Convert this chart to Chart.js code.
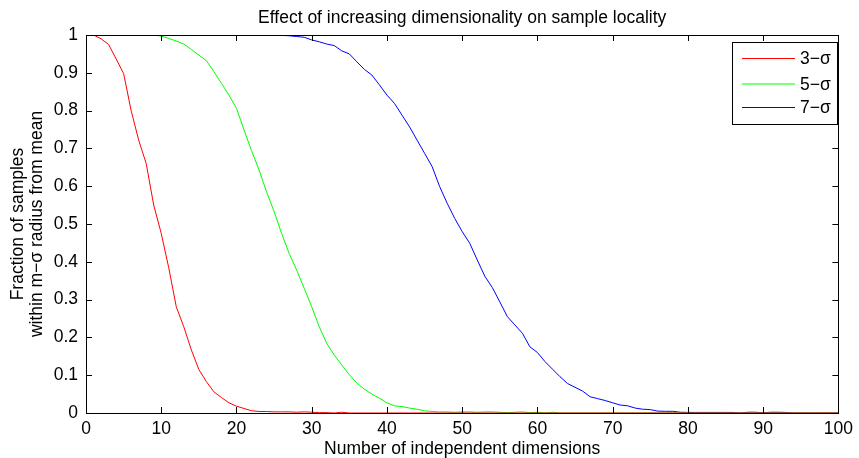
<!DOCTYPE html>
<html>
<head>
<meta charset="utf-8">
<script src="https://cdn.jsdelivr.net/npm/chart.js@4/dist/chart.umd.min.js"></script>
<style>
  html, body { margin: 0; padding: 0; background: #fff; }
  #wrap { width: 859px; height: 458px; position: relative; }
</style>
</head>
<body>
<div id="wrap"><canvas id="locality"></canvas></div>
<script>
// Number of independent dimensions (1..100)
const dims = Array.from({ length: 100 }, (_, i) => i + 1);

// Fraction of samples within 3, 5 and 7 sigma of the mean, per dimension
const sigma3 = [
  1.000, 0.990, 0.975, 0.937, 0.898, 0.800, 0.722, 0.660, 0.550, 0.475,
  0.384, 0.281, 0.228, 0.167, 0.115, 0.083, 0.056, 0.041, 0.027, 0.018,
  0.012, 0.006, 0.004, 0.004, 0.003, 0.003, 0.003, 0.002, 0.003, 0.002,
  0.001, 0.001, 0.000, 0.002, 0.000, 0.000, 0.000, 0.000, 0.000, 0.000,
  0, 0, 0, 0, 0, 0, 0, 0, 0, 0,
  0, 0, 0, 0, 0, 0, 0, 0, 0, 0,
  0, 0, 0, 0, 0, 0, 0, 0, 0, 0,
  0, 0, 0, 0, 0, 0, 0, 0, 0, 0,
  0, 0, 0, 0, 0, 0, 0, 0, 0, 0,
  0, 0, 0, 0, 0, 0, 0, 0, 0, 0
];
const sigma5 = [
  1.000, 1.000, 1.000, 1.000, 1.000, 1.000, 1.000, 1.000, 1.000, 0.997,
  0.991, 0.984, 0.976, 0.962, 0.947, 0.932, 0.903, 0.872, 0.841, 0.806,
  0.749, 0.694, 0.643, 0.585, 0.533, 0.475, 0.422, 0.378, 0.330, 0.281,
  0.228, 0.184, 0.153, 0.127, 0.101, 0.079, 0.063, 0.050, 0.039, 0.027,
  0.019, 0.017, 0.013, 0.010, 0.006, 0.004, 0.003, 0.003, 0.002, 0.003,
  0.003, 0.002, 0.003, 0.003, 0.002, 0.001, 0.002, 0.003, 0.001, 0.002,
  0.000, 0.002, 0.000, 0, 0, 0, 0, 0, 0, 0,
  0, 0, 0, 0, 0, 0, 0, 0, 0, 0,
  0, 0, 0, 0, 0, 0, 0, 0, 0, 0,
  0, 0, 0, 0, 0, 0, 0, 0, 0, 0
];
const sigma7 = [
  1.000, 1.000, 1.000, 1.000, 1.000, 1.000, 1.000, 1.000, 1.000, 1.000,
  1.000, 1.000, 1.000, 1.000, 1.000, 1.000, 1.000, 1.000, 1.000, 1.000,
  1.000, 1.000, 1.000, 1.000, 1.000, 0.999, 0.998, 0.996, 0.994, 0.987,
  0.982, 0.976, 0.972, 0.958, 0.950, 0.929, 0.909, 0.894, 0.868, 0.841,
  0.819, 0.788, 0.757, 0.722, 0.687, 0.652, 0.599, 0.555, 0.515, 0.480,
  0.449, 0.405, 0.362, 0.332, 0.294, 0.255, 0.233, 0.211, 0.175, 0.160,
  0.136, 0.116, 0.096, 0.078, 0.068, 0.058, 0.043, 0.038, 0.033, 0.027,
  0.021, 0.019, 0.013, 0.010, 0.009, 0.005, 0.0045, 0.0045, 0.002, 0.0015,
  0.0015, 0.0015, 0.0015, 0.0015, 0.0015, 0.0015, 0.000, 0.002, 0.002, 0.0005,
  0.002, 0.002, 0.0015, 0, 0, 0, 0, 0, 0, 0
];

const seriesLabels = ['3\u2212\u03c3', '5\u2212\u03c3', '7\u2212\u03c3'];
const seriesColors = ['#ff0000', '#00ff00', '#0000ff'];

const xTicks = [0, 10, 20, 30, 40, 50, 60, 70, 80, 90, 100];
const yTicks = [0, 0.1, 0.2, 0.3, 0.4, 0.5, 0.6, 0.7, 0.8, 0.9, 1];

const FONT = 'Liberation Sans, Arial, Helvetica, sans-serif';
const FS = 17.5;
const TICK = 6;

const toPoints = vals => dims.map((d, i) => ({ x: d, y: vals[i] }));

// box round the plot, inward tick marks on all four sides, and the legend
const matlabFrame = {
  id: 'matlabFrame',
  afterDatasetsDraw(chart) {
    const { ctx, chartArea: a, scales: { x, y } } = chart;
    ctx.save();
    ctx.strokeStyle = '#000';
    ctx.lineWidth = 1;
    ctx.beginPath();
    x.ticks.forEach(t => {
      const px = Math.round(x.getPixelForValue(t.value)) + 0.5;
      ctx.moveTo(px, a.bottom); ctx.lineTo(px, a.bottom - TICK);
      ctx.moveTo(px, a.top); ctx.lineTo(px, a.top + TICK);
    });
    y.ticks.forEach(t => {
      const py = Math.round(y.getPixelForValue(t.value)) + 0.5;
      ctx.moveTo(a.left, py); ctx.lineTo(a.left + TICK, py);
      ctx.moveTo(a.right, py); ctx.lineTo(a.right - TICK, py);
    });
    ctx.stroke();
    ctx.strokeRect(Math.round(a.left) + 0.5, Math.round(a.top) + 0.5,
                   Math.round(a.width), Math.round(a.height));

    // legend box
    const bx = 732.5, by = 42.5, bw = 105, bh = 82;
    ctx.fillStyle = '#fff';
    ctx.fillRect(bx, by, bw, bh);
    ctx.strokeRect(bx, by, bw, bh);
    const rows = [58.5, 84, 107.5];
    ctx.font = FS + 'px ' + FONT;
    ctx.textBaseline = 'middle';
    ctx.textAlign = 'left';
    chart.data.datasets.forEach((ds, i) => {
      ctx.strokeStyle = ds.borderColor;
      ctx.beginPath();
      ctx.moveTo(742, rows[i]);
      ctx.lineTo(795, rows[i]);
      ctx.stroke();
      ctx.fillStyle = '#000';
      ctx.fillText(ds.label, 800, rows[i] + 1);
    });
    ctx.restore();
  }
};

new Chart(document.getElementById('locality'), {
  type: 'line',
  data: {
    datasets: seriesLabels.map((label, i) => ({
      label: label,
      data: toPoints([sigma3, sigma5, sigma7][i]),
      borderColor: seriesColors[i],
      borderWidth: 1,
      pointRadius: 0,
      tension: 0,
      fill: false
    }))
  },
  options: {
    responsive: true,
    maintainAspectRatio: false,
    animation: false,
    events: [],
    layout: { padding: { left: 0, right: 15, top: 0, bottom: 0 } },
    plugins: {
      legend: { display: false },
      tooltip: { enabled: false },
      title: {
        display: true,
        fullSize: false,
        text: 'Effect of increasing dimensionality on sample locality',
        color: '#000',
        font: { family: FONT, size: FS, weight: 'normal', lineHeight: 1.2 },
        padding: { top: 7.5, bottom: 6.5 }
      }
    },
    scales: {
      x: {
        type: 'linear',
        min: 0,
        max: 100,
        afterBuildTicks: s => { s.ticks = xTicks.map(v => ({ value: v })); },
        afterFit: s => { s.height = 45; },
        grid: { display: false, drawTicks: false },
        border: { display: false },
        ticks: {
          color: '#000',
          padding: 6,
          maxRotation: 0,
          font: { family: FONT, size: FS }
        },
        title: {
          display: true,
          text: 'Number of independent dimensions',
          color: '#000',
          font: { family: FONT, size: FS, lineHeight: 1 },
          padding: { top: 0, bottom: 0 }
        }
      },
      y: {
        type: 'linear',
        min: 0,
        max: 1,
        afterBuildTicks: s => { s.ticks = yTicks.map(v => ({ value: v })); },
        afterFit: s => { s.width = 86; },
        grid: { display: false, drawTicks: false },
        border: { display: false },
        ticks: {
          color: '#000',
          padding: 8,
          font: { family: FONT, size: FS },
          callback: v => String(v)
        },
        title: {
          display: true,
          text: ['Fraction of samples', 'within m\u2212\u03c3 radius from mean'],
          color: '#000',
          font: { family: FONT, size: FS, lineHeight: 1.086 },
          padding: { top: 8.5, bottom: 0 }
        }
      }
    }
  },
  plugins: [matlabFrame]
});
</script>
</body>
</html>
